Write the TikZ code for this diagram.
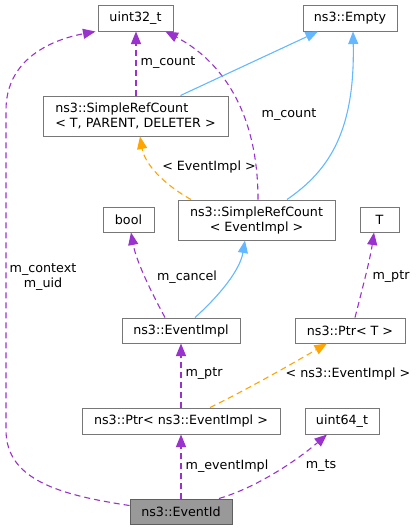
\documentclass[tikz,border=0pt]{standalone}
\usepackage{fontspec}
\setmainfont{DejaVu Sans}
\usetikzlibrary{arrows.meta}
\definecolor{purp}{HTML}{9A32CD}
\definecolor{orng}{HTML}{FFA500}
\definecolor{blu}{HTML}{63B8FF}
\definecolor{bord}{HTML}{777777}
\definecolor{hl}{HTML}{999999}
\begin{document}
\begin{tikzpicture}[x=1pt,y=-1pt,
 box/.style={draw=bord, line width=1pt, fill=white, inner sep=0pt, align=center, font=\fontsize{12.7}{15}\selectfont},
 lbl/.style={inner sep=0pt, align=center, font=\fontsize{12.7}{15}\selectfont},
 tip/.style={-{Triangle[length=12.5pt,width=10pt]}},
 mem/.style={tip, purp, line width=1.1pt, dash pattern=on 6pt off 4pt},
 tpl/.style={tip, orng, line width=1.1pt, dash pattern=on 6pt off 4pt},
 inh/.style={tip, blu, line width=1.1pt}
]
\useasboundingbox (0,0) rectangle (419,531);
% nodes
\node[box, minimum width=75pt, minimum height=26pt] (u32) at (135.5,18) {uint32\_t};
\node[box, minimum width=94pt, minimum height=26pt] (emp) at (350,18) {ns3::Empty};
\node[box, minimum width=185pt, minimum height=40pt, align=left] (srcT) at (135.5,116) {ns3::SimpleRefCount\\< T, PARENT, DELETER >};
\node[box, minimum width=51pt, minimum height=25pt] (bool) at (128.5,219.5) {bool};
\node[box, minimum width=157pt, minimum height=40pt] (srcE) at (256.5,220) {ns3::SimpleRefCount\\< EventImpl >};
\node[box, minimum width=39pt, minimum height=25pt] (T) at (379.5,219.5) {T};
\node[box, minimum width=118pt, minimum height=25pt] (eimpl) at (181,330.5) {ns3::EventImpl};
\node[box, minimum width=110pt, minimum height=25pt] (ptrT) at (350,330.5) {ns3::Ptr< T >};
\node[box, minimum width=198pt, minimum height=26pt] (ptrE) at (181,421) {ns3::Ptr< ns3::EventImpl >};
\node[box, minimum width=74pt, minimum height=26pt] (u64) at (342,421) {uint64\_t};
\node[box, minimum width=102pt, minimum height=25pt, fill=hl, draw=bord!80!black] (eid) at (181,511.5) {ns3::EventId};
% edges
\draw[mem] ([yshift=6pt]eid.west) .. controls (60,495) and (6,480) .. (6,430) -- (6,110) .. controls (6,60) and (50,40) .. ([xshift=-2pt]u32.south west);
\node[lbl] (l1) at (43,277) {m\_context\\m\_uid};
\draw[mem] ([xshift=0.5pt]srcT.north) -- ([xshift=0.5pt]u32.south);
\node[lbl] (l2) at (168,63) {m\_count};
\draw[mem] ([xshift=1.5pt]srcE.north) .. controls (258,110) and (220,60) .. ([xshift=30pt]u32.south);
\node[lbl] (l3) at (289,115) {m\_count};
\draw[inh] ([xshift=45pt]srcT.north) -- ([xshift=-32pt]emp.south);
\draw[inh] ([xshift=30.5pt]srcE.north) .. controls (330,170) and (355,130) .. ([xshift=3pt]emp.south);
\draw[tpl] ([xshift=-65.5pt]srcE.north) .. controls (165,185) and (145,165) .. ([xshift=4.5pt]srcT.south);
\node[lbl] (l4) at (209,167) {< EventImpl >};
\draw[mem] ([xshift=-16pt]eimpl.north) .. controls (150,290) and (136,260) .. ([xshift=2.5pt]bool.south);
\node[lbl] (l5) at (187,277) {m\_cancel};
\draw[inh] ([xshift=14pt]eimpl.north) .. controls (220,295) and (240,270) .. ([xshift=-11.5pt]srcE.south);
\draw[mem] ([xshift=5pt]ptrT.north) .. controls (362,290) and (370,260) .. ([xshift=-5.5pt]T.south);
\node[lbl] (l6) at (391,277) {m\_ptr};
\draw[mem] (ptrE.north) -- (eimpl.south);
\node[lbl] (l7) at (204,374) {m\_ptr};
\draw[tpl] ([xshift=29pt]ptrE.north) .. controls (250,388) and (295,362) .. ([xshift=-23pt]ptrT.south);
\node[lbl] (l8) at (348,374) {< ns3::EventImpl >};
\draw[mem] (eid.north) -- (ptrE.south);
\node[lbl] (l9) at (227,466) {m\_eventImpl};
\draw[mem] ([xshift=38pt]eid.north) .. controls (255,488) and (295,462) .. ([xshift=-15pt]u64.south);
\node[lbl] (l10) at (321,466) {m\_ts};
\end{tikzpicture}
\end{document}
